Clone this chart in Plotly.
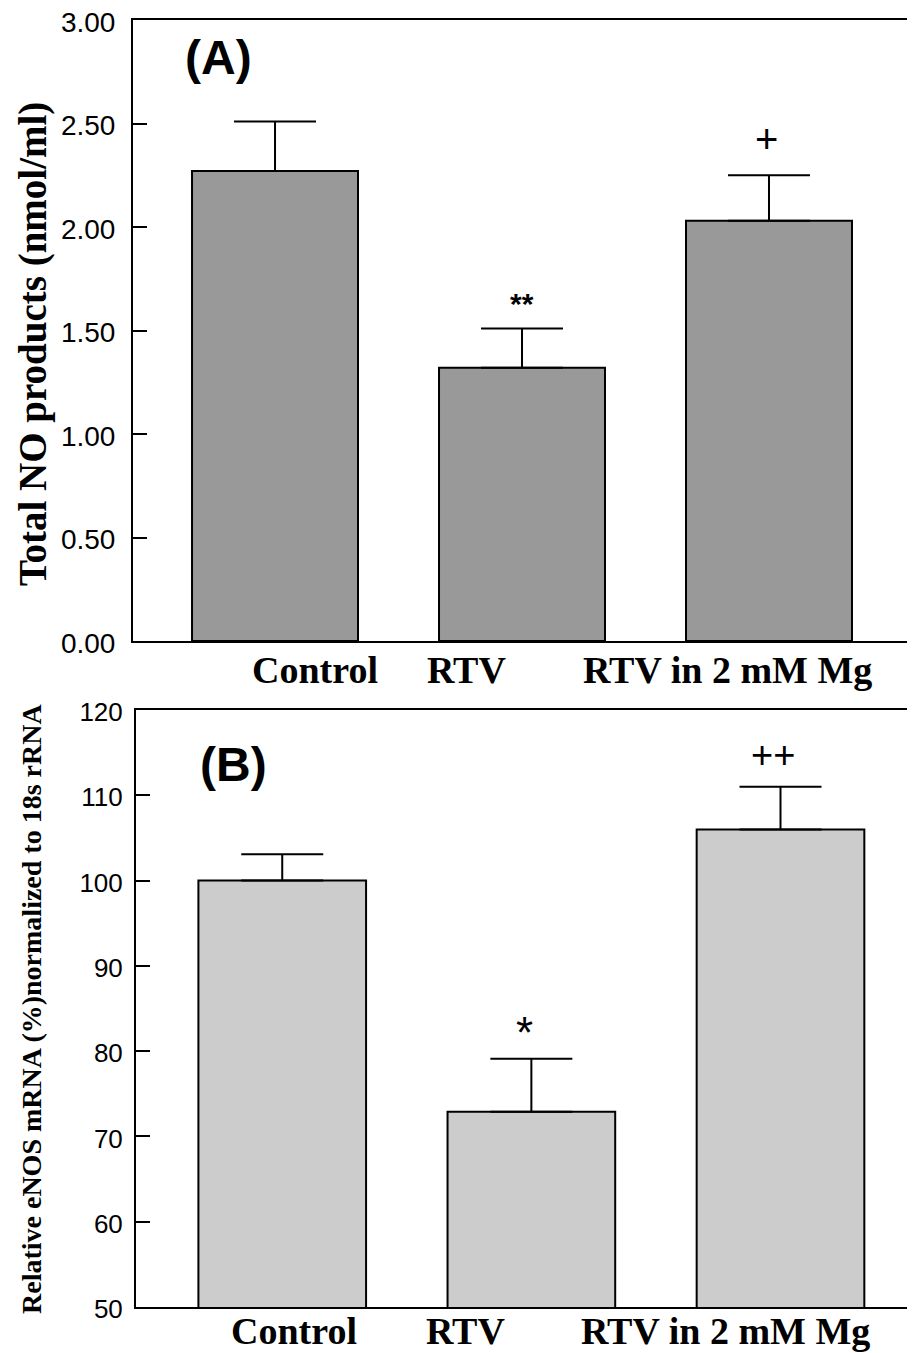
import plotly.graph_objects as go

# ---- data ----
categories = ["Control", "RTV", "RTV in 2 mM Mg"]
no_products = [2.27, 1.32, 2.03]          # nmol/ml
no_err = [0.24, 0.19, 0.22]
enos_mrna = [100.0, 72.9, 106.0]           # % of control
enos_err = [3.1, 6.2, 5.0]
sig_a = ["", "**", "+"]
sig_b = ["", "*", "++"]
yticks_a = [0.0, 0.5, 1.0, 1.5, 2.0, 2.5, 3.0]
yticks_b = [50, 60, 70, 80, 90, 100, 110, 120]

W, H = 915, 1353
OFF = 8  # page body margin
xpos = list(range(len(categories)))

def px_x(p):
    return (p - OFF) / W

def px_y(p):
    return 1 - (p - OFF) / H

fig = go.Figure()

fig.add_trace(go.Bar(
    x=xpos, y=no_products, width=0.672,
    marker=dict(color="#999999", line=dict(color="black", width=2)),
    error_y=dict(type="data", array=no_err, arrayminus=[0] * 3, symmetric=False,
                 color="black", thickness=2, width=41),
    xaxis="x", yaxis="y", showlegend=False,
))
fig.add_trace(go.Bar(
    x=xpos, y=enos_mrna, width=0.673,
    marker=dict(color="#cccccc", line=dict(color="black", width=2)),
    error_y=dict(type="data", array=enos_err, arrayminus=[0] * 3, symmetric=False,
                 color="black", thickness=2, width=41),
    xaxis="x2", yaxis="y2", showlegend=False,
))

axis_common = dict(showgrid=False, zeroline=False, linecolor="black", linewidth=2,
                   automargin=False)

fig.update_layout(
    template="none",
    width=W, height=H, autosize=False,
    margin=dict(l=0, r=0, t=0, b=0, pad=0, autoexpand=False),
    paper_bgcolor="white", plot_bgcolor="white",
    xaxis=dict(domain=[px_x(133), px_x(912)], range=[-0.575, 2.579], showticklabels=False,
               ticks="", showline=True, mirror=True, anchor="y", **axis_common),
    yaxis=dict(domain=[px_y(641), px_y(20)], range=[0, 3.00001], tickvals=yticks_a,
               tickformat=".2f", ticks="inside", ticklen=14, tickwidth=2, tickcolor="black",
               showline=True, mirror=True, anchor="x", ticklabelstandoff=10, ticklabelshift=2,
               ticklabeloverflow="allow",
               tickfont=dict(family="Liberation Sans", size=28, color="black"), **axis_common),
    xaxis2=dict(domain=[px_x(136), 1.0], range=[-0.587, 2.572], showticklabels=False,
                ticks="", showline=True, mirror=True, anchor="y2", **axis_common),
    yaxis2=dict(domain=[px_y(1307), px_y(710)], range=[50, 120.0001], tickvals=yticks_b,
                ticks="inside", ticklen=14, tickwidth=2, tickcolor="black",
                showline=True, mirror=False, anchor="x2", ticklabelstandoff=6, ticklabelshift=2,
                ticklabeloverflow="allow",
                tickfont=dict(family="Liberation Sans", size=26, color="black"), **axis_common),
)

ann = []
# category labels (offset from bar centres as in the original)
lab_off_a = [0.162, -0.225, -0.166]
lab_off_b = [0.046, -0.265, -0.222]
for i, c in enumerate(categories):
    ann.append(dict(x=xpos[i] + lab_off_a[i], xref="x", y=px_y(670), yref="paper",
                    text=c, showarrow=False, xanchor="center", yanchor="middle",
                    font=dict(family="Liberation Serif", size=38, color="black", weight="bold")))
    ann.append(dict(x=xpos[i] + lab_off_b[i], xref="x2", y=px_y(1331), yref="paper",
                    text=c, showarrow=False, xanchor="center", yanchor="middle",
                    font=dict(family="Liberation Serif", size=38, color="black", weight="bold")))

# significance marks
sig_shift_a = [0, 6, 36]
sig_dx_a = [0, 0, -0.012]
sig_size_a = [0, 30, 40]
sig_shift_b = [0, 0, 32]
sig_dx_b = [0, -0.028, -0.032]
sig_size_b = [0, 44, 38]
for i in range(len(categories)):
    if sig_a[i]:
        star = sig_a[i].startswith("*")
        ann.append(dict(x=xpos[i] + sig_dx_a[i], xref="x", y=no_products[i] + no_err[i], yref="y",
                        yshift=sig_shift_a[i], text=sig_a[i], showarrow=False,
                        xanchor="center", yanchor="bottom" if star else "middle",
                        font=dict(family="Liberation Sans", size=sig_size_a[i], color="black",
                                  weight="bold" if star else "normal")))
    if sig_b[i]:
        star = sig_b[i].startswith("*")
        ann.append(dict(x=xpos[i] + sig_dx_b[i], xref="x2", y=enos_mrna[i] + enos_err[i], yref="y2",
                        yshift=sig_shift_b[i], text=sig_b[i], showarrow=False,
                        xanchor="center", yanchor="bottom" if star else "middle",
                        font=dict(family="Liberation Sans", size=sig_size_b[i], color="black")))

# panel letters
ann.append(dict(x=px_x(218), y=px_y(57), xref="paper", yref="paper", text="(A)", showarrow=False,
                xanchor="center", yanchor="middle",
                font=dict(family="Liberation Sans", size=48, color="black", weight="bold")))
ann.append(dict(x=px_x(233), y=px_y(765), xref="paper", yref="paper", text="(B)", showarrow=False,
                xanchor="center", yanchor="middle",
                font=dict(family="Liberation Sans", size=48, color="black", weight="bold")))

# y-axis titles
ann.append(dict(x=px_x(33), y=px_y(344), xref="paper", yref="paper",
                text="Total NO products (nmol/ml)", textangle=-90, showarrow=False,
                xanchor="center", yanchor="middle",
                font=dict(family="Liberation Serif", size=39, color="black", weight="bold")))
ann.append(dict(x=px_x(31), y=px_y(1009), xref="paper", yref="paper",
                text="Relative eNOS mRNA (%)normalized to 18s rRNA", textangle=-90, showarrow=False,
                xanchor="center", yanchor="middle",
                font=dict(family="Liberation Serif", size=28, color="black", weight="bold")))

fig.update_layout(annotations=ann)
fig.write_html("out.html")
